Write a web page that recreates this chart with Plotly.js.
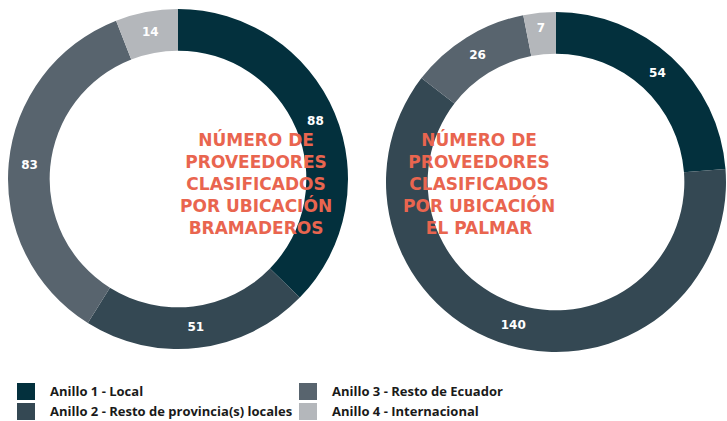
<!DOCTYPE html>
<html>
<head>
<meta charset="utf-8">
<script src="https://cdn.plot.ly/plotly-3.0.1.min.js"></script>
<style>html,body{margin:0;padding:0;background:#fff;}#chart{width:727px;height:421px;}</style>
</head>
<body>
<div id="chart"></div>
<script>
const categories = ["Anillo 1 - Local", "Anillo 2 - Resto de provincia(s) locales", "Anillo 3 - Resto de Ecuador", "Anillo 4 - Internacional"];
const bramaderosValues = [88, 51, 83, 14];
const palmarValues = [54, 140, 26, 7];
const colors = ["#03303D", "#344853", "#58646E", "#B4B7BB"];
const bramaderosTitle = "NÚMERO DE<br>PROVEEDORES<br>CLASIFICADOS<br>POR UBICACIÓN<br>BRAMADEROS";
const palmarTitle = "NÚMERO DE<br>PROVEEDORES<br>CLASIFICADOS<br>POR UBICACIÓN<br>EL PALMAR";

const W = 727, H = 421;
const px = v => v / W;
const py = v => 1 - v / H;

const FONT = "Open Sans, sans-serif";
const WIDE = "DejaVu Sans, sans-serif";

function pieTrace(values, x0, x1, yTop, yBot) {
  return {
    type: "pie",
    labels: categories,
    values: values,
    sort: false,
    direction: "clockwise",
    rotation: 0,
    hole: 0.755,
    marker: {colors: colors, line: {width: 0}},
    textinfo: "value",
    textposition: "inside",
    insidetextorientation: "horizontal",
    textfont: {family: WIDE, size: 12, color: "#ffffff", weight: 700},
    showlegend: false,
    hoverinfo: "label+value",
    domain: {x: [px(x0), px(x1)], y: [py(yBot), py(yTop)]}
  };
}

const data = [
  pieTrace(bramaderosValues, 8, 348, 9, 349),
  pieTrace(palmarValues, 386, 726, 12, 352)
];

const annotations = [
  {text: bramaderosTitle, x: px(178), y: py(183), xref: "paper", yref: "paper", showarrow: false,
   font: {family: WIDE, size: 17, color: "#E9654F", weight: 700}, align: "center"},
  {text: palmarTitle, x: px(557), y: py(183), xref: "paper", yref: "paper", showarrow: false,
   font: {family: WIDE, size: 17, color: "#E9654F", weight: 700}, align: "center"}
];

const shapes = [];
// legend: two columns, column-major
const legX = [17, 299];
const legY = [383, 403];
categories.forEach((c, i) => {
  const col = Math.floor(i / 2), row = i % 2;
  const x0 = legX[col], y0 = legY[row];
  shapes.push({type: "rect", xref: "paper", yref: "paper",
    x0: px(x0), x1: px(x0 + 18), y0: py(y0 + 17), y1: py(y0),
    fillcolor: colors[i], line: {width: 0}});
  annotations.push({text: c, xref: "paper", yref: "paper", x: px(x0 + 31), y: py(y0 + 7.5),
    xanchor: "left", yanchor: "middle", showarrow: false,
    font: {family: FONT, size: 13, color: "#1a1a1a", weight: 700}});
});

const layout = {
  width: W, height: H,
  margin: {l: 0, r: 0, t: 0, b: 0},
  paper_bgcolor: "#ffffff",
  plot_bgcolor: "#ffffff",
  showlegend: false,
  annotations: annotations,
  shapes: shapes
};

Plotly.newPlot("chart", data, layout, {displayModeBar: false, staticPlot: true});
</script>
</body>
</html>
